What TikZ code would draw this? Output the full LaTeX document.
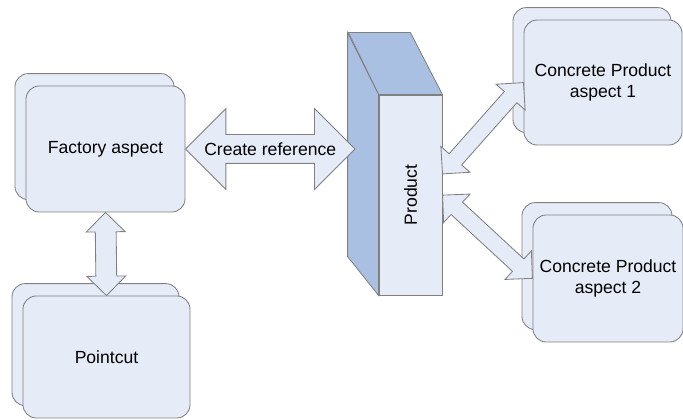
\documentclass[tikz,border=0pt]{standalone}
\usepackage{fontspec}
\setmainfont{Liberation Sans}
\usepackage{graphicx}
\usetikzlibrary{shapes.arrows, shadows, calc, positioning}

\definecolor{boxfill}{RGB}{230,236,247}
\definecolor{boxline}{RGB}{128,128,128}
\definecolor{prodside}{RGB}{170,192,226}

% fat two-headed link: name, from, to, extra options
\newcommand{\fatlink}[4]{%
  \path let \p1=($(#3)-(#2)$) in
    node[linkarrow, #4, rotate={atan2(\y1,\x1)}, minimum height={veclen(\x1,\y1)}]
    (#1) at ($(#2)!0.5!(#3)$) {};
}

\begin{document}
\begin{tikzpicture}[
  font=\fontsize{12.5}{14.5}\selectfont,
  aspectbox/.style={draw=boxline, fill=boxfill, line width=0.6pt, rounded corners=0.33cm, align=center,
    copy shadow={shadow xshift=-0.275cm, shadow yshift=0.31cm, draw=boxline, fill=boxfill, line width=0.6pt}},
  linkarrow/.style={double arrow, draw=boxline, fill=boxfill, line width=0.6pt, inner xsep=0pt, double arrow tip angle=90}
]
  \useasboundingbox (0,0) rectangle (17.075,10.5);

  % Aspects on the left
  \node[aspectbox, minimum width=3.975cm, minimum height=3.15cm] (fac) at (2.6375,6.775) {Factory aspect};
  \node[aspectbox, minimum width=4.175cm, minimum height=3.05cm] (pc) at (2.6625,1.575) {Pointcut};

  % Concrete product aspects
  \node[aspectbox, minimum width=3.95cm, minimum height=3.125cm] (cp1) at (15.075,8.4375) {Concrete Product\\aspect 1};
  \node[aspectbox, minimum width=3.75cm, minimum height=3.175cm] (cp2) at (15.2,3.5375) {Concrete Product\\aspect 2};

  % Product block
  \node[draw=boxline, fill=boxfill, line width=0.6pt, minimum width=1.575cm, minimum height=5cm] (prod) at (10.2625,5.625) {\rotatebox{90}{Product}};
  \filldraw[draw=boxline, fill=prodside, line width=0.6pt] (prod.north west) -- (prod.north east) -- ++(-0.8,1.55) -- ++(-1.55,0) -- cycle;
  \filldraw[draw=boxline, fill=prodside, line width=0.6pt] (prod.north west) -- ++(-0.775,1.55) -- ++(0,-5.6) -- (prod.south west) -- cycle;

  % Links
  \coordinate (crefend) at (8.875,6.775);
  \coordinate (produp) at ($(prod.east)+(0,0.525)$);
  \fatlink{cref}{fac.east}{crefend}{inner ysep=0.35cm, double arrow head extend=0.65cm, label=center:Create reference}
  \fatlink{vlink}{fac.south}{pc.north}{inner ysep=0.25cm, double arrow head extend=0.225cm}
  \fatlink{dlink1}{produp}{cp1.west}{inner ysep=0.2cm, double arrow head extend=0.275cm}
  \fatlink{dlink2}{prod.east}{cp2.west}{inner ysep=0.2cm, double arrow head extend=0.275cm}
\end{tikzpicture}
\end{document}
